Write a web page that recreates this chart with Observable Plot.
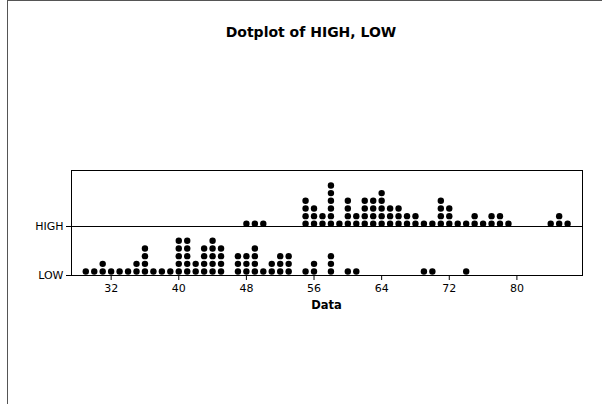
<!DOCTYPE html>
<html>
<head>
<meta charset="utf-8">
<script src="https://cdn.jsdelivr.net/npm/d3@7"></script>
<script src="https://cdn.jsdelivr.net/npm/@observablehq/plot@0.6"></script>
<style>
  body { margin: 0; background: #fff; }
  #wrap { position: relative; width: 602px; height: 404px; overflow: hidden; font-family: "DejaVu Sans", sans-serif; background: #fff; }
  #border { position: absolute; left: 7px; top: 0px; width: 700px; height: 500px; border-left: 1px solid #555; border-top: 1px solid #555; }
  #title { position: absolute; left: 20px; width: 582px; top: 24px; text-align: center; font-weight: bold; font-size: 14px; line-height: 16px; color: #000; }
  #xlabel { position: absolute; left: 71px; width: 511px; top: 298px; text-align: center; font-weight: bold; font-size: 11.5px; line-height: 14px; color: #000; }
  #chart { position: absolute; left: 0; top: 0; }
</style>
</head>
<body>
<div id="wrap">
  <div id="border"></div>
  <div id="chart"></div>
  <div id="title">Dotplot of HIGH, LOW</div>
  <div id="xlabel">Data</div>
</div>
<script>
const series = ["HIGH", "LOW"];
const highValues = [
  48, 49, 50,
  55, 55, 55, 55, 56, 56, 56, 57, 57,
  58, 58, 58, 58, 58, 58, 59, 60, 60, 60, 60, 61, 61,
  62, 62, 62, 62, 63, 63, 63, 63, 64, 64, 64, 64, 64,
  65, 65, 65, 66, 66, 66, 67, 67, 68, 68, 69, 70,
  71, 71, 71, 71, 72, 72, 72, 73, 74, 75, 75, 76, 77, 77, 78, 78, 79,
  84, 85, 85, 86
];
const lowValues = [
  29, 30, 31, 31, 32, 33, 34, 35, 35, 36, 36, 36, 36, 37, 38, 39,
  40, 40, 40, 40, 40, 41, 41, 41, 41, 41, 42, 42, 43, 43, 43, 43,
  44, 44, 44, 44, 44, 45, 45, 45, 45,
  47, 47, 47, 48, 48, 48, 49, 49, 49, 49, 50, 51, 51, 52, 52, 52, 53, 53, 53,
  55, 56, 56, 58, 58, 58, 60, 61,
  69, 70, 74
];
const xTicks = [32, 40, 48, 56, 64, 72, 80];

// layout constants (in y-scale units, which here equal pixels of the panel)
const rowStep = 7.67;
const baseY = {HIGH: 51.7, LOW: 4};
const dividerY = 49;
const tickY = {HIGH: dividerY, LOW: 0};

const rows = [];
for (const [name, vals] of [["HIGH", highValues], ["LOW", lowValues]]) {
  const counts = new Map();
  for (const v of vals) {
    const k = counts.get(v) || 0;
    counts.set(v, k + 1);
    rows.push({series: name, value: v, y: baseY[name] + k * rowStep});
  }
}

const chart = Plot.plot({
  width: 602,
  height: 404,
  marginLeft: 71,
  marginRight: 20,
  marginTop: 170,
  marginBottom: 129,
  style: {fontFamily: "DejaVu Sans, sans-serif", fontSize: "11px", background: "transparent", color: "#000"},
  x: {domain: [27.31, 87.76]},
  y: {domain: [0, 105]},
  marks: [
    Plot.frame({stroke: "#000", strokeWidth: 1}),
    Plot.ruleY([dividerY], {stroke: "#000", strokeWidth: 1}),
    Plot.dot(rows, {x: "value", y: "y", r: 3.2, fill: "#000", stroke: "none"}),
    Plot.axisX({ticks: xTicks, tickSize: 5, tickPadding: 4, label: null, fontSize: 11}),
    Plot.axisY(series.map(s => tickY[s]), {tickSize: 5, tickPadding: 3, label: null, fontSize: 11,
      tickFormat: d => series.find(s => tickY[s] === d)})
  ]
});
document.getElementById("chart").appendChild(chart);
</script>
</body>
</html>
